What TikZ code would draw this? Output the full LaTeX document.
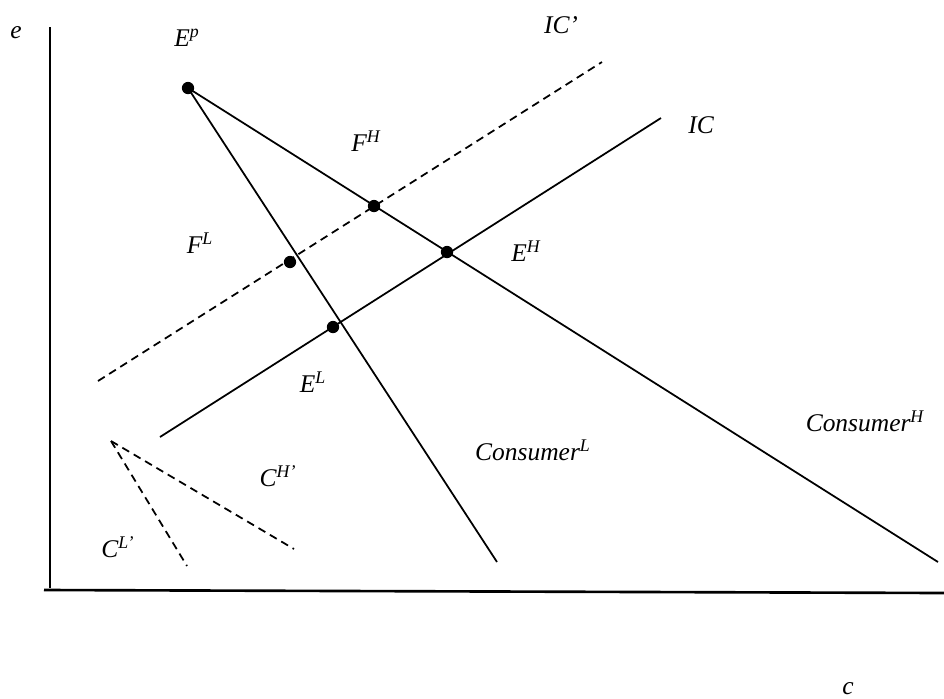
\documentclass[tikz,border=0pt]{standalone}
\usepackage{fontspec}
\setmainfont{Liberation Serif}
\usepackage{tikz}
\usetikzlibrary{arrows.meta,positioning}

\begin{document}
\begin{tikzpicture}[x=0.02cm,y=-0.02cm,
  curve/.style={line width=1pt},
  icdash/.style={line width=1pt,dash pattern=on 4.5pt off 3pt},
  dot/.style={circle,fill=black,inner sep=0pt,minimum size=7pt},
  lbl/.style={font=\fontsize{14.5}{17}\selectfont\itshape,inner sep=0pt}]
\useasboundingbox (0,0) rectangle (944,698);
% axes
\coordinate (etop) at (50,27);
\coordinate (ebot) at (50,588);
\coordinate (cleft) at (44,590);
\coordinate (cright) at (944,593);
\draw[line width=1pt] (etop)--(ebot);
\draw[line width=1.5pt] (cleft)--(cright);
\node[lbl] (elab) at (16,33) {e};
\node[lbl] (clab) at (848,689) {c};
% consumer lines
\coordinate (ep) at (188,88);
\coordinate (consH) at (938,562);
\coordinate (consL) at (497,562);
\draw[curve] (ep)--(consH);
\draw[curve] (ep)--(consL);
% indifference curves
\coordinate (icA) at (160,437);
\coordinate (icB) at (661,118);
\coordinate (icpA) at (98,381);
\coordinate (icpB) at (602,62);
\draw[curve] (icA)--(icB);
\draw[icdash] (icpA)--(icpB);
% C lines
\coordinate (capex) at (111,441);
\coordinate (cL) at (187,566);
\coordinate (cH) at (294,549);
\draw[icdash] (capex)--(cL);
\draw[icdash] (capex)--(cH);
% points
\node[dot] (Ep) at (ep) {};
\node[dot] (FH) at (374,206) {};
\node[dot] (EH) at (447,252) {};
\node[dot] (FL) at (290,262) {};
\node[dot] (EL) at (333,327) {};
% labels
\node[lbl] (Eplab) at (187,38) {E\textsuperscript{p}};
\node[lbl] (ICplab) at (561,25) {IC’};
\node[lbl] (IClab) at (701,125) {IC};
\node[lbl] (FHlab) at (366,141) {F\textsuperscript{H}};
\node[lbl] (EHlab) at (526,251) {E\textsuperscript{H}};
\node[lbl] (FLlab) at (200,243) {F\textsuperscript{L}};
\node[lbl] (ELlab) at (313,382) {E\textsuperscript{L}};
\node[lbl] (CHlab) at (865,421) {Consumer\textsuperscript{H}};
\node[lbl] (CLlab) at (533,450) {Consumer\textsuperscript{L}};
\node[lbl] (CHplab) at (278,476) {C\textsuperscript{H’}};
\node[lbl] (CLplab) at (118,547) {C\textsuperscript{L’}};
\end{tikzpicture}
\end{document}
